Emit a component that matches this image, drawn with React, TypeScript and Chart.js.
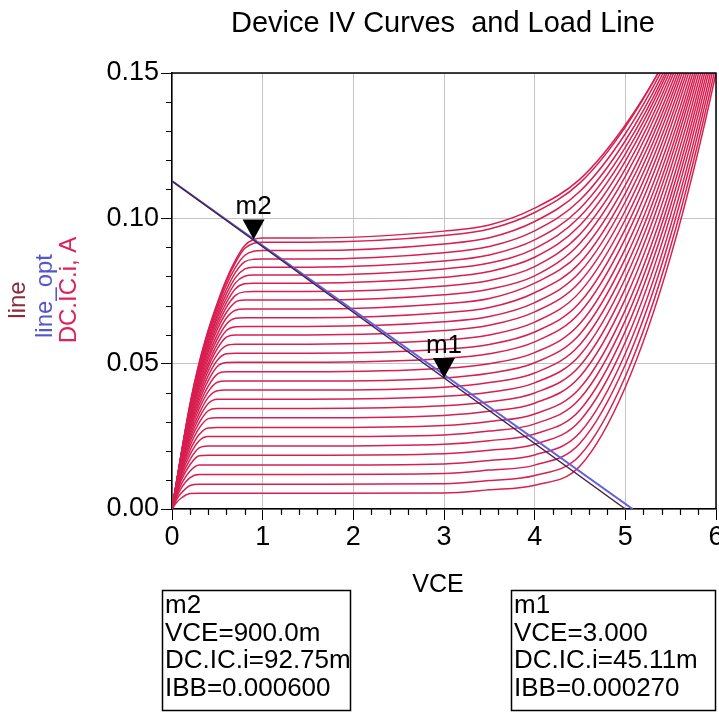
import React, { useEffect, useRef } from 'react';
import { Chart, registerables } from 'chart.js';

Chart.register(...registerables);

// VCE grid (V) shared by every IV curve
const VCE = [0, 0.05, 0.1, 0.2, 0.3, 0.4, 0.5, 0.6, 0.7, 0.8, 0.9, 1.0, 1.5, 3.0, 3.5, 4.0, 4.5, 5.0, 5.5, 6.0, 6.5];

// DC.IC.i (A) per base-current step
const IC_00 = [0, 0.0022, 0.0037, 0.0053, 0.0054, 0.0054, 0.0054, 0.0054, 0.0054, 0.0054, 0.0054, 0.0054, 0.0054, 0.0055, 0.0066, 0.0082, 0.0148, 0.0419, 0.0869, 0.1500, 0.2311];
const IC_01 = [0, 0.0032, 0.0054, 0.0081, 0.0085, 0.0085, 0.0085, 0.0085, 0.0085, 0.0085, 0.0085, 0.0085, 0.0085, 0.0087, 0.0098, 0.0115, 0.0185, 0.0456, 0.0904, 0.1528, 0.2328];
const IC_02 = [0, 0.0040, 0.0071, 0.0108, 0.0119, 0.0119, 0.0119, 0.0119, 0.0119, 0.0119, 0.0119, 0.0119, 0.0119, 0.0122, 0.0134, 0.0151, 0.0226, 0.0497, 0.0941, 0.1557, 0.2346];
const IC_03 = [0, 0.0047, 0.0084, 0.0131, 0.0151, 0.0151, 0.0151, 0.0151, 0.0151, 0.0151, 0.0151, 0.0151, 0.0151, 0.0155, 0.0167, 0.0186, 0.0263, 0.0535, 0.0975, 0.1584, 0.2362];
const IC_04 = [0, 0.0053, 0.0097, 0.0153, 0.0183, 0.0185, 0.0185, 0.0185, 0.0185, 0.0185, 0.0185, 0.0185, 0.0185, 0.0190, 0.0202, 0.0223, 0.0304, 0.0574, 0.1011, 0.1611, 0.2377];
const IC_05 = [0, 0.0058, 0.0107, 0.0171, 0.0210, 0.0217, 0.0217, 0.0217, 0.0217, 0.0217, 0.0217, 0.0217, 0.0217, 0.0223, 0.0235, 0.0258, 0.0341, 0.0612, 0.1044, 0.1636, 0.2391];
const IC_06 = [0, 0.0062, 0.0116, 0.0188, 0.0235, 0.0249, 0.0249, 0.0249, 0.0249, 0.0249, 0.0249, 0.0249, 0.0249, 0.0255, 0.0268, 0.0293, 0.0380, 0.0649, 0.1076, 0.1661, 0.2403];
const IC_07 = [0, 0.0065, 0.0123, 0.0203, 0.0256, 0.0279, 0.0280, 0.0280, 0.0280, 0.0280, 0.0280, 0.0280, 0.0280, 0.0287, 0.0301, 0.0327, 0.0416, 0.0685, 0.1107, 0.1684, 0.2414];
const IC_08 = [0, 0.0068, 0.0131, 0.0218, 0.0278, 0.0311, 0.0314, 0.0314, 0.0314, 0.0314, 0.0314, 0.0314, 0.0314, 0.0322, 0.0336, 0.0364, 0.0456, 0.0723, 0.1140, 0.1708, 0.2426];
const IC_09 = [0, 0.0071, 0.0137, 0.0232, 0.0297, 0.0338, 0.0346, 0.0346, 0.0346, 0.0346, 0.0346, 0.0346, 0.0346, 0.0355, 0.0369, 0.0399, 0.0493, 0.0759, 0.1172, 0.1730, 0.2436];
const IC_10 = [0, 0.0073, 0.0143, 0.0244, 0.0314, 0.0363, 0.0378, 0.0378, 0.0378, 0.0378, 0.0378, 0.0378, 0.0378, 0.0388, 0.0402, 0.0434, 0.0530, 0.0794, 0.1202, 0.1752, 0.2444];
const IC_11 = [0, 0.0075, 0.0148, 0.0255, 0.0329, 0.0384, 0.0407, 0.0409, 0.0409, 0.0409, 0.0409, 0.0409, 0.0409, 0.0419, 0.0435, 0.0468, 0.0566, 0.0828, 0.1229, 0.1769, 0.2448];
const IC_12 = [0, 0.0077, 0.0153, 0.0266, 0.0345, 0.0404, 0.0436, 0.0440, 0.0440, 0.0440, 0.0440, 0.0440, 0.0440, 0.0451, 0.0467, 0.0503, 0.0602, 0.0862, 0.1257, 0.1788, 0.2453];
const IC_13 = [0, 0.0079, 0.0156, 0.0276, 0.0359, 0.0423, 0.0464, 0.0472, 0.0472, 0.0472, 0.0472, 0.0472, 0.0472, 0.0484, 0.0500, 0.0538, 0.0638, 0.0896, 0.1285, 0.1806, 0.2458];
const IC_14 = [0, 0.0081, 0.0160, 0.0286, 0.0373, 0.0442, 0.0490, 0.0504, 0.0505, 0.0505, 0.0505, 0.0505, 0.0505, 0.0518, 0.0534, 0.0575, 0.0676, 0.0931, 0.1314, 0.1824, 0.2462];
const IC_15 = [0, 0.0082, 0.0163, 0.0294, 0.0385, 0.0459, 0.0512, 0.0534, 0.0536, 0.0536, 0.0536, 0.0536, 0.0536, 0.0550, 0.0566, 0.0609, 0.0711, 0.0964, 0.1340, 0.1840, 0.2464];
const IC_16 = [0, 0.0083, 0.0166, 0.0302, 0.0397, 0.0475, 0.0532, 0.0562, 0.0567, 0.0567, 0.0567, 0.0567, 0.0567, 0.0581, 0.0599, 0.0643, 0.0747, 0.0996, 0.1365, 0.1854, 0.2464];
const IC_17 = [0, 0.0085, 0.0169, 0.0310, 0.0411, 0.0490, 0.0552, 0.0591, 0.0599, 0.0599, 0.0599, 0.0599, 0.0599, 0.0614, 0.0632, 0.0678, 0.0782, 0.1027, 0.1390, 0.1869, 0.2465];
const IC_18 = [0, 0.0085, 0.0171, 0.0317, 0.0421, 0.0502, 0.0568, 0.0614, 0.0627, 0.0628, 0.0628, 0.0628, 0.0628, 0.0644, 0.0662, 0.0710, 0.0815, 0.1057, 0.1412, 0.1880, 0.2460];
const IC_19 = [0, 0.0087, 0.0173, 0.0322, 0.0430, 0.0516, 0.0585, 0.0636, 0.0656, 0.0658, 0.0658, 0.0658, 0.0658, 0.0675, 0.0693, 0.0744, 0.0847, 0.1086, 0.1433, 0.1889, 0.2454];
const IC_20 = [0, 0.0087, 0.0175, 0.0327, 0.0440, 0.0528, 0.0601, 0.0657, 0.0684, 0.0688, 0.0688, 0.0688, 0.0688, 0.0706, 0.0724, 0.0777, 0.0881, 0.1114, 0.1454, 0.1898, 0.2448];
const IC_21 = [0, 0.0088, 0.0177, 0.0333, 0.0449, 0.0541, 0.0618, 0.0676, 0.0712, 0.0719, 0.0719, 0.0719, 0.0719, 0.0737, 0.0756, 0.0802, 0.0914, 0.1144, 0.1475, 0.1908, 0.2443];
const IC_22 = [0, 0.0090, 0.0179, 0.0338, 0.0459, 0.0552, 0.0632, 0.0694, 0.0735, 0.0747, 0.0748, 0.0748, 0.0748, 0.0767, 0.0786, 0.0834, 0.0945, 0.1170, 0.1493, 0.1914, 0.2434];
const IC_23 = [0, 0.0090, 0.0180, 0.0343, 0.0466, 0.0563, 0.0645, 0.0710, 0.0758, 0.0775, 0.0777, 0.0777, 0.0777, 0.0797, 0.0817, 0.0866, 0.0976, 0.1197, 0.1511, 0.1919, 0.2423];
const IC_24 = [0, 0.0091, 0.0182, 0.0347, 0.0474, 0.0572, 0.0658, 0.0725, 0.0778, 0.0801, 0.0805, 0.0805, 0.0805, 0.0826, 0.0846, 0.0896, 0.1006, 0.1221, 0.1527, 0.1923, 0.2410];
const IC_25 = [0, 0.0092, 0.0183, 0.0350, 0.0481, 0.0582, 0.0668, 0.0740, 0.0796, 0.0825, 0.0832, 0.0832, 0.0832, 0.0853, 0.0874, 0.0926, 0.1034, 0.1244, 0.1540, 0.1925, 0.2395];
const IC_26 = [0, 0.0092, 0.0184, 0.0354, 0.0488, 0.0593, 0.0680, 0.0755, 0.0814, 0.0850, 0.0859, 0.0860, 0.0860, 0.0882, 0.0903, 0.0957, 0.1063, 0.1267, 0.1554, 0.1924, 0.2378];
const IC_27 = [0, 0.0092, 0.0186, 0.0357, 0.0495, 0.0602, 0.0692, 0.0771, 0.0831, 0.0872, 0.0887, 0.0889, 0.0889, 0.0912, 0.0933, 0.0989, 0.1093, 0.1291, 0.1569, 0.1926, 0.2362];
const IC_28 = [0, 0.0094, 0.0186, 0.0362, 0.0501, 0.0611, 0.0703, 0.0784, 0.0848, 0.0896, 0.0914, 0.0918, 0.0918, 0.0941, 0.0963, 0.1020, 0.1122, 0.1314, 0.1582, 0.1925, 0.2345];
const IC_29 = [0, 0.0093, 0.0187, 0.0363, 0.0504, 0.0616, 0.0709, 0.0790, 0.0856, 0.0906, 0.0927, 0.0932, 0.0932, 0.0956, 0.0977, 0.1035, 0.1135, 0.1321, 0.1578, 0.1908, 0.2311];

const IC_CURVES = [IC_00, IC_01, IC_02, IC_03, IC_04, IC_05, IC_06, IC_07, IC_08, IC_09, IC_10, IC_11, IC_12, IC_13, IC_14, IC_15, IC_16, IC_17, IC_18, IC_19, IC_20, IC_21, IC_22, IC_23, IC_24, IC_25, IC_26, IC_27, IC_28, IC_29];

// Load lines (VCE, IC end points)
const LINE_VCE = [0, 5.0];
const LINE_IC = [0.1128, 0];
const LINE_OPT_VCE = [0, 5.08];
const LINE_OPT_IC = [0.1128, 0];

// Markers
const MARKER_NAMES = ['m2', 'm1'];
const MARKER_VCE = [0.9, 3.0];
const MARKER_IC = [0.09275, 0.04511];
const MARKER_TEXT = [
  ['m2', 'VCE=900.0m', 'DC.IC.i=92.75m', 'IBB=0.000600'],
  ['m1', 'VCE=3.000', 'DC.IC.i=45.11m', 'IBB=0.000270'],
];

const X_TICKS = [0, 1, 2, 3, 4, 5, 6];
const Y_TICKS = [0, 0.05, 0.1, 0.15];

const TITLE = 'Device IV Curves  and Load Line';
const X_LABEL = 'VCE';
const Y_LABELS = ['line', 'line_opt', 'DC.IC.i, A'];

const FONT = '"Liberation Sans", Arial, sans-serif';
const CURVE_COLOR = '#d81f50';

const decorPlugin = {
  id: 'decor',
  beforeDraw(chart: any) {
    const ctx = chart.ctx;
    ctx.save();
    ctx.fillStyle = '#ffffff';
    ctx.fillRect(0, 0, chart.width, chart.height);
    ctx.restore();
  },
  afterDatasetsDraw(chart: any) {
    const ctx = chart.ctx;
    const xs = chart.scales.x;
    const ys = chart.scales.y;
    ctx.save();
    for (let i = 0; i < MARKER_NAMES.length; i++) {
      const px = xs.getPixelForValue(MARKER_VCE[i]);
      const py = ys.getPixelForValue(MARKER_IC[i]);
      ctx.fillStyle = '#000';
      ctx.beginPath();
      ctx.moveTo(px - 11, py - 20);
      ctx.lineTo(px + 11, py - 20);
      ctx.lineTo(px, py);
      ctx.closePath();
      ctx.fill();
      ctx.font = '26px ' + FONT;
      ctx.textAlign = 'center';
      ctx.textBaseline = 'alphabetic';
      ctx.fillText(MARKER_NAMES[i], px, py - 25);
    }
    ctx.restore();
  },
  afterDraw(chart: any) {
    const ctx = chart.ctx;
    const xs = chart.scales.x;
    const ys = chart.scales.y;
    const a = chart.chartArea;
    ctx.save();
    // frame top/right
    ctx.strokeStyle = '#000';
    ctx.lineWidth = 1.5;
    ctx.beginPath();
    ctx.moveTo(a.left, a.top);
    ctx.lineTo(a.right, a.top);
    ctx.lineTo(a.right, a.bottom);
    ctx.stroke();
    // minor ticks
    ctx.lineWidth = 1.2;
    ctx.beginPath();
    for (let k = 0; k <= 30; k++) {
      if (k % 5 === 0) continue;
      const px = Math.round(xs.getPixelForValue(k * 0.2)) + 0.5;
      ctx.moveTo(px, a.bottom);
      ctx.lineTo(px, a.bottom + 6);
    }
    for (let k = 0; k <= 15; k++) {
      if (k % 5 === 0) continue;
      const py = Math.round(ys.getPixelForValue(k * 0.01)) + 0.5;
      ctx.moveTo(a.left, py);
      ctx.lineTo(a.left - 6, py);
    }
    ctx.stroke();
    // title
    ctx.fillStyle = '#000';
    ctx.font = '29px ' + FONT;
    ctx.textAlign = 'center';
    ctx.textBaseline = 'alphabetic';
    ctx.fillText(TITLE, 443, 32);
    // x label
    ctx.font = '25px ' + FONT;
    ctx.fillText(X_LABEL, 438, 592);
    // y labels
    const yCols = ['#8a2a3a', '#5555cc', '#e0205a'];
    const yX = [18, 45, 69];
    const yC = [300, 296, 290];
    ctx.font = '24px ' + FONT;
    ctx.textBaseline = 'middle';
    for (let i = 0; i < Y_LABELS.length; i++) {
      ctx.save();
      ctx.translate(yX[i], yC[i]);
      ctx.rotate(-Math.PI / 2);
      ctx.fillStyle = yCols[i];
      ctx.fillText(Y_LABELS[i], 0, 0);
      ctx.restore();
    }
    // marker boxes
    const boxes = [
      { x: 162, y: 590, w: 188, h: 120 },
      { x: 511, y: 590, w: 204, h: 120 },
    ];
    ctx.font = '26px ' + FONT;
    ctx.textAlign = 'left';
    ctx.textBaseline = 'alphabetic';
    ctx.fillStyle = '#000';
    ctx.lineWidth = 1.5;
    for (let i = 0; i < boxes.length; i++) {
      const b = boxes[i];
      ctx.strokeRect(b.x + 0.5, b.y + 0.5, b.w, b.h);
      const lines = MARKER_TEXT[i];
      for (let j = 0; j < lines.length; j++) {
        ctx.fillText(lines[j], b.x + 3, b.y + 23 + j * 27.5);
      }
    }
    ctx.restore();
  },
};

export default function App() {
  const ref = useRef<HTMLCanvasElement | null>(null);
  useEffect(() => {
    document.body.style.margin = '0';
    const canvas = ref.current;
    if (!canvas) return;
    const curveSets = IC_CURVES.map((row, i) => ({
      label: 'DC.IC.i ' + i,
      data: VCE.map((v, j) => ({ x: v, y: row[j] })),
      borderColor: CURVE_COLOR,
      borderWidth: 1.5,
      pointRadius: 0,
      cubicInterpolationMode: 'monotone' as const,
      fill: false,
    }));
    const chart = new Chart(canvas, {
      type: 'line',
      data: {
        datasets: [
          {
            label: 'line',
            data: LINE_VCE.map((v, j) => ({ x: v, y: LINE_IC[j] })),
            borderColor: '#4a2048',
            borderWidth: 1.4,
            pointRadius: 0,
            tension: 0,
          },
          {
            label: 'line_opt',
            data: LINE_OPT_VCE.map((v, j) => ({ x: v, y: LINE_OPT_IC[j] })),
            borderColor: '#6060e0',
            borderWidth: 2,
            pointRadius: 0,
            tension: 0,
          },
          ...curveSets,
        ],
      },
      options: {
        animation: false,
        responsive: false,
        devicePixelRatio: 1,
        events: [],
        layout: { padding: { top: 73, right: 3, bottom: 0, left: 0 } },
        plugins: { legend: { display: false }, tooltip: { enabled: false }, title: { display: false } },
        scales: {
          x: {
            type: 'linear',
            min: 0,
            max: 6,
            afterBuildTicks: (s: any) => { s.ticks = X_TICKS.map((v) => ({ value: v })); },
            ticks: {
              color: '#000',
              font: { size: 27, family: FONT },
              padding: 1,
              maxRotation: 0,
              callback: (v: any) => String(v),
            },
            grid: { color: '#c4c4c4', lineWidth: 1, tickColor: '#000', tickLength: 11, drawTicks: true },
            border: { color: '#000', width: 1.5 },
            afterFit: (s: any) => { s.height = 204; s.paddingLeft = 0; s.paddingRight = 0; },
          },
          y: {
            type: 'linear',
            min: 0,
            max: 0.15,
            afterBuildTicks: (s: any) => { s.ticks = Y_TICKS.map((v) => ({ value: v })); },
            ticks: {
              color: '#000',
              font: { size: 27, family: FONT },
              padding: 2,
              callback: (v: any) => Number(v).toFixed(2),
            },
            grid: { color: '#c4c4c4', lineWidth: 1, tickColor: '#000', tickLength: 11, drawTicks: true },
            border: { color: '#000', width: 1.5 },
            afterFit: (s: any) => { s.width = 172; s.paddingTop = 0; s.paddingBottom = 0; },
          },
        },
      },
      plugins: [decorPlugin],
    });
    return () => chart.destroy();
  }, []);
  return <canvas ref={ref} width={719} height={713} style={{ display: 'block', width: 719, height: 713 }} />;
}
